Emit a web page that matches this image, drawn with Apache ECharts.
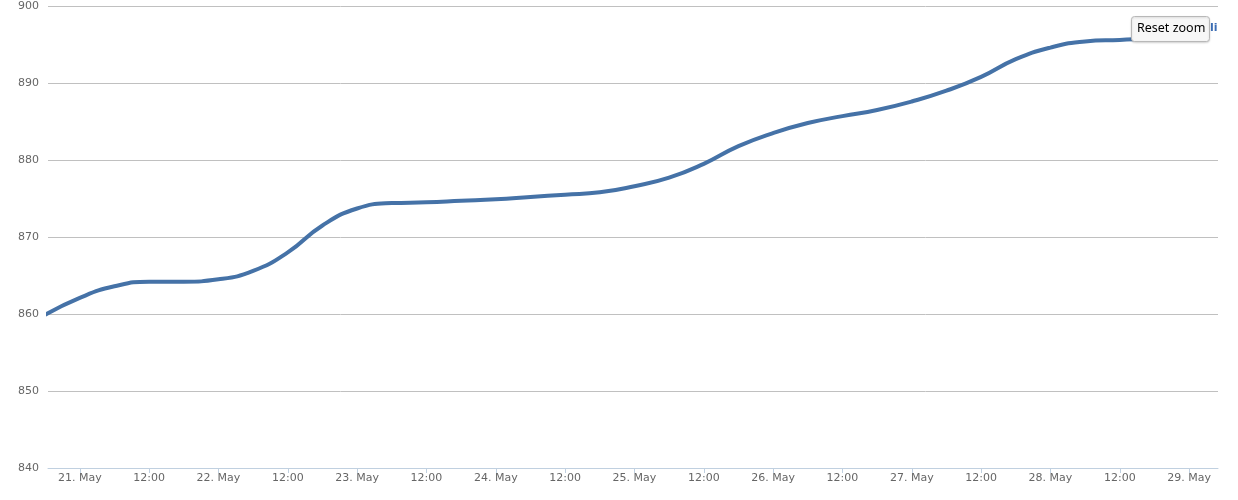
<!DOCTYPE html>
<html>
<head>
<meta charset="utf-8">
<script src="https://cdn.jsdelivr.net/npm/echarts@6/dist/echarts.min.js"></script>
<style>
html,body{margin:0;padding:0;background:#fff;}
#chart{width:1238px;height:500px;}
</style>
</head>
<body>
<div id="chart"></div>
<script>
// Data: hours since 21 May 00:00 and values
const hours = [-6, 0, 6, 12, 18, 24, 30, 36, 42, 48, 54, 60, 66, 72, 78, 84, 90, 96, 102, 108, 114, 120, 126, 132, 138, 144, 150, 156, 162, 168, 174, 180, 186, 192];
const values = [859.9, 862.1, 863.6, 864.2, 864.2, 864.5, 865.6, 868.0, 871.5, 873.7, 874.4, 874.5, 874.7, 874.9, 875.2, 875.5, 875.8, 876.6, 877.7, 879.5, 881.8, 883.5, 884.8, 885.7, 886.5, 887.6, 889.0, 890.8, 893.1, 894.6, 895.4, 895.6, 895.8, 895.9];
const xTickHours = [0, 12, 24, 36, 48, 60, 72, 84, 96, 108, 120, 132, 144, 156, 168, 180, 192];
const xTickLabels = ['21. May', '12:00', '22. May', '12:00', '23. May', '12:00', '24. May', '12:00', '25. May', '12:00', '26. May', '12:00', '27. May', '12:00', '28. May', '12:00', '29. May'];
const yTicks = [840, 850, 860, 870, 880, 890, 900];
const buttonText = 'Reset zoom';

const seriesData = hours.map((h, i) => [h, values[i]]);

const chart = echarts.init(document.getElementById('chart'), null, {renderer: 'canvas'});
const fontFamily = '"DejaVu Sans", Verdana, sans-serif';
chart.setOption({
  animation: false,
  grid: {left: 48, right: 20, top: 6, bottom: 32, containLabel: false},
  xAxis: {
    type: 'value',
    min: -5.5,
    max: 197,
    axisLine: {show: true, onZero: false, lineStyle: {color: '#C0D0E0', width: 1}},
    axisTick: {show: true, length: 5, customValues: xTickHours, lineStyle: {color: '#C0D0E0'}},
    splitLine: {show: false},
    axisLabel: {
      color: '#666',
      fontSize: 11,
      fontFamily: fontFamily,
      margin: 5,
      customValues: xTickHours,
      showMinLabel: true,
      showMaxLabel: true,
      hideOverlap: false,
      formatter: function (val) {
        const i = xTickHours.indexOf(val);
        return i >= 0 ? xTickLabels[i] : '';
      }
    }
  },
  yAxis: {
    type: 'value',
    min: yTicks[0],
    max: yTicks[yTicks.length - 1],
    interval: 10,
    axisLine: {show: false},
    axisTick: {show: false},
    splitLine: {show: true, lineStyle: {color: '#C0C0C0', width: 1}},
    axisLabel: {color: '#666', fontSize: 11, fontFamily: fontFamily, margin: 9}
  },
  series: [{
    type: 'line',
    data: seriesData,
    smooth: 0.5,
    showSymbol: false,
    symbol: 'none',
    clip: true,
    lineStyle: {color: '#4572A7', width: 4, cap: 'round', join: 'round'},
    itemStyle: {color: '#4572A7'},
    z: 3
  }],
  graphic: [
    {
      type: 'text',
      left: 1210,
      top: 23,
      z: 100,
      style: {text: 'li', fill: '#3D6EB5', font: 'bold 11px ' + fontFamily}
    },
    {
      type: 'rect',
      left: 1131,
      top: 16,
      z: 101,
      shape: {width: 78, height: 25, r: 3},
      style: {fill: '#F7F7F7', stroke: '#B8B8B8', lineWidth: 1, shadowBlur: 2, shadowColor: 'rgba(0,0,0,0.15)', shadowOffsetY: 1}
    },
    {
      type: 'text',
      left: 1137,
      top: 22,
      z: 102,
      style: {text: buttonText, fill: '#000', font: '12.5px "Lucida Grande", "Noto Sans", sans-serif'}
    }
  ]
});
</script>
</body>
</html>
